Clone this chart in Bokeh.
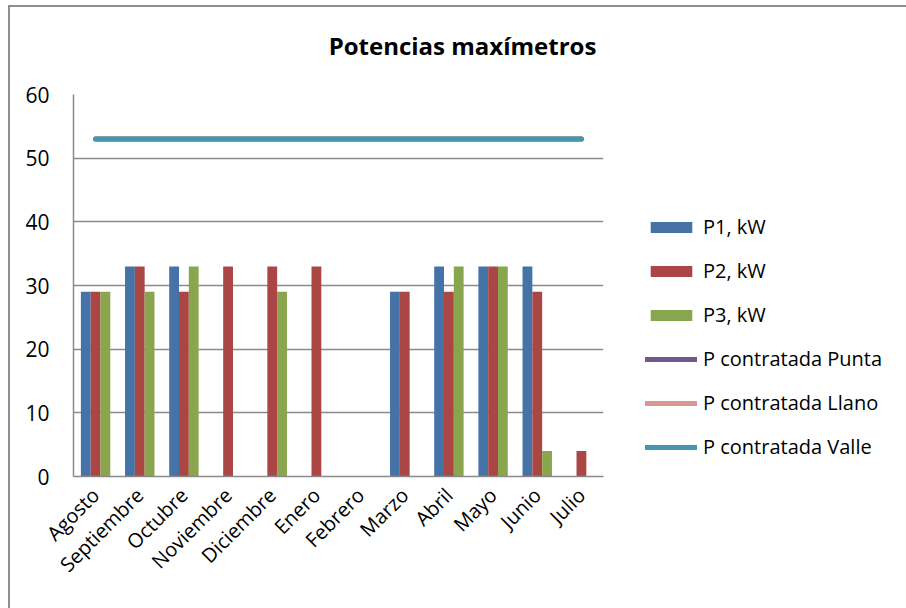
import math
from bokeh.plotting import figure
from bokeh.models import ColumnDataSource, Legend, LegendItem, FixedTicker, Label
from bokeh.transform import dodge
from bokeh.embed import file_html
from bokeh.resources import INLINE

months = ["Agosto", "Septiembre", "Octubre", "Noviembre", "Diciembre", "Enero",
          "Febrero", "Marzo", "Abril", "Mayo", "Junio", "Julio"]
p1_kw = [29, 33, 33, 0, 0, 0, 0, 29, 33, 33, 33, 0]
p2_kw = [29, 33, 29, 33, 33, 33, 0, 29, 29, 33, 29, 4]
p3_kw = [29, 29, 33, 0, 29, 0, 0, 0, 33, 33, 4, 0]
p_punta = [53, 53, 53, 53, 53, 53, 53, 53, 53, 53, 53, 53]
p_llano = [53, 53, 53, 53, 53, 53, 53, 53, 53, 53, 53, 53]
p_valle = [53, 53, 53, 53, 53, 53, 53, 53, 53, 53, 53, 53]
y_ticks = [0, 10, 20, 30, 40, 50, 60]

src = ColumnDataSource(dict(month=months, p1=p1_kw, p2=p2_kw, p3=p3_kw,
                            punta=p_punta, llano=p_llano, valle=p_valle))

FONT = "Open Sans"
GRID = "#8a8a8a"

p = figure(x_range=months, y_range=(0, 60), frame_width=530, frame_height=382,
           output_backend="svg", toolbar_location=None,
           min_border_left=63, min_border_right=303,
           min_border_top=87, min_border_bottom=132)
p.styles = {"border-top": "2px solid #8e8e8e", "border-left": "2px solid #8e8e8e",
            "margin-left": "8px", "margin-top": "5px"}
p.x_range.range_padding = 0
p.outline_line_color = None
p.background_fill_color = "white"
p.border_fill_color = "white"

title = Label(x=389, y=49, x_units="screen", y_units="screen",
              text="Potencias maxímetros", text_font=FONT, text_font_style="bold",
              text_font_size="24px", text_align="center", text_baseline="alphabetic",
              text_color="black")
p.add_layout(title, "above")

bw = 0.222
r1 = p.vbar(x=dodge("month", -bw, range=p.x_range), top="p1", width=bw, source=src,
            fill_color="#4572A7", line_color=None)
r2 = p.vbar(x=dodge("month", 0, range=p.x_range), top="p2", width=bw, source=src,
            fill_color="#AA4643", line_color=None)
r3 = p.vbar(x=dodge("month", bw, range=p.x_range), top="p3", width=bw, source=src,
            fill_color="#89A54E", line_color=None)
l1 = p.line(x="month", y="punta", source=src, line_color="#71588F", line_width=5,
            line_cap="round")
l2 = p.line(x="month", y="llano", source=src, line_color="#D99694", line_width=5,
            line_cap="round")
l3 = p.line(x="month", y="valle", source=src, line_color="#4198AF", line_width=5,
            line_cap="round")

p.xgrid.grid_line_color = None
p.ygrid.grid_line_color = GRID
p.ygrid.grid_line_width = 1.5
p.yaxis.ticker = FixedTicker(ticks=y_ticks)

for ax in (p.xaxis[0], p.yaxis[0]):
    ax.axis_line_color = GRID
    ax.axis_line_width = 1.5
    ax.major_tick_line_color = None
    ax.minor_tick_line_color = None
    ax.major_label_text_font = FONT
    ax.major_label_text_color = "black"

p.yaxis.major_label_text_font_size = "21px"
p.xaxis.major_label_text_font_size = "20px"
p.yaxis.major_label_standoff = 18
p.xaxis.major_label_standoff = 9
p.xaxis.major_label_orientation = math.pi / 4

legend = Legend(items=[
    LegendItem(label="P1, kW", renderers=[r1]),
    LegendItem(label="P2, kW", renderers=[r2]),
    LegendItem(label="P3, kW", renderers=[r3]),
    LegendItem(label="P contratada Punta", renderers=[l1]),
    LegendItem(label="P contratada Llano", renderers=[l2]),
    LegendItem(label="P contratada Valle", renderers=[l3]),
], location=(42, 16))
legend.padding = 0
legend.margin = 0
legend.border_line_color = None
legend.background_fill_alpha = 0
legend.glyph_width = 52
legend.glyph_height = 14
legend.label_height = 24
legend.spacing = 17
legend.label_standoff = 6
legend.label_text_font = FONT
legend.label_text_font_size = "20px"
legend.label_text_color = "black"
p.add_layout(legend, "right")

open("out.html", "w").write(file_html(p, INLINE))
